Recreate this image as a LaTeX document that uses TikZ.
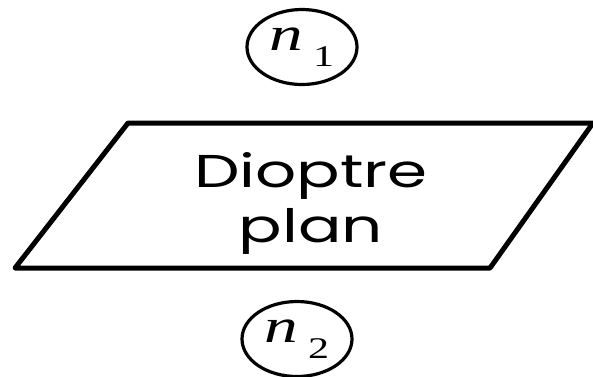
\documentclass[tikz,border=0pt]{standalone}
\usepackage{fontspec}
\usepackage{graphicx}
\setmainfont{Poppins}
\newfontfamily\timesfont{Liberation Serif}
\usepackage{tikz}
\usetikzlibrary{shapes.geometric}

\newcommand{\wide}[1]{\scalebox{1.4}[1]{#1}}
\newcommand{\indice}[1]{\wide{\timesfont\fontsize{48}{48}\selectfont\itshape n\hspace{7pt}\raisebox{-16pt}{\upshape\fontsize{30}{30}\selectfont #1}}}

\begin{document}
\begin{tikzpicture}[x=1pt, y=-1pt, every node/.style={inner sep=0pt},
    index/.style={draw, ellipse, line width=3.2pt, minimum width=110pt, minimum height=75pt}]
    \useasboundingbox (0,0) rectangle (593,376);
    \node (n1) [index] at (302,47) {\indice{1}};
    \node (n2) [index] at (297,339) {\indice{2}};
    \coordinate (bl) at (15,268);
    \coordinate (tl) at (128,123);
    \coordinate (tr) at (593,123);
    \coordinate (br) at (490,268);
    \draw[line width=5pt, line join=round] (bl) -- (tl) -- (tr) -- (br) -- cycle;
    \node (diop) [align=center, font=\fontsize{46}{55}\selectfont] at (311,203) {\wide{Dioptre}\\\wide{plan}};
  \end{tikzpicture}
\end{document}
